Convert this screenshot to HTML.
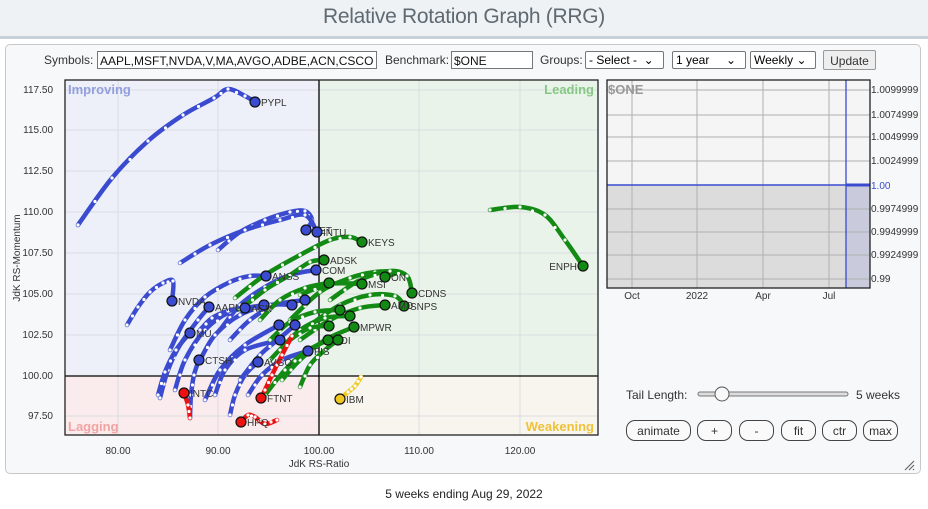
<!DOCTYPE html>
<html><head><meta charset="utf-8"><style>
body{margin:0;width:928px;height:509px;background:#fff;font-family:"Liberation Sans",sans-serif;position:relative;overflow:hidden}
.hdr{position:absolute;left:0;top:0;width:928px;height:36px;background:#eef2f5;border-bottom:3px solid #c9d1d8;text-align:center;font-size:21px;color:#5f6a72;line-height:34px;letter-spacing:-0.3px}
.panel{position:absolute;left:5px;top:44px;width:914px;height:428px;background:#f7f8f9;border:1px solid #c8c8c8;border-radius:5px}
.t{position:absolute;font-size:12px;color:#333;white-space:nowrap}
.inp{position:absolute;height:18px;border:1px solid #777;background:#fff;font-size:12px;line-height:18px;padding-left:2px;box-sizing:border-box;color:#111;white-space:nowrap;overflow:hidden}
.sel{position:absolute;height:18px;border:1px solid #777;background:#fff;font-size:12px;line-height:16px;padding-left:3px;box-sizing:border-box;border-radius:2px}
.btn{position:absolute;height:21px;border:1px solid #444;border-radius:9px;background:#fafafa;font-size:12px;line-height:20px;text-align:center;box-sizing:border-box;color:#333}
.foot{position:absolute;left:0;width:928px;top:487px;text-align:center;font-size:12px;color:#222}
</style></head><body>
<div class="hdr">Relative Rotation Graph (RRG)</div>
<div class="panel"></div>
<div class="t" style="left:44px;top:53px">Symbols:</div>
<div class="inp" style="left:97px;top:51px;width:280px">AAPL,MSFT,NVDA,V,MA,AVGO,ADBE,ACN,CSCO</div>
<div class="t" style="left:385px;top:53px">Benchmark:</div>
<div class="inp" style="left:451px;top:51px;width:82px">$ONE</div>
<div class="t" style="left:540px;top:53px">Groups:</div>
<div class="sel" style="left:585px;top:51px;width:79px">- Select - &nbsp;⌄</div>
<div class="sel" style="left:672px;top:51px;width:74px">1 year &nbsp;&nbsp;&nbsp;&nbsp;⌄</div>
<div class="sel" style="left:750px;top:51px;width:66px">Weekly ⌄</div>
<div class="btn" style="left:823px;top:50px;width:53px;height:20px;border-radius:2px;border-color:#999;background:#eee">Update</div>

<svg style="position:absolute;left:0;top:0" width="928" height="509" id="s">
<rect x="65" y="80" width="254" height="296" fill="#eef0f9"/>
<rect x="319" y="80" width="279" height="296" fill="#eaf3ea"/>
<rect x="65" y="376" width="254" height="59" fill="#faecec"/>
<rect x="319" y="376" width="279" height="59" fill="#f8f5ee"/>
<g stroke="#dadde2" stroke-width="1" id="grid"></g>
<line x1="319" y1="80" x2="319" y2="435" stroke="#000" stroke-width="1.3"/>
<line x1="65" y1="376" x2="598" y2="376" stroke="#000" stroke-width="1.3"/>
<rect x="65" y="80" width="533" height="355" fill="none" stroke="#222" stroke-width="1.3"/>
<g font-size="13" font-weight="bold" font-family="Liberation Sans,sans-serif">
<text x="68" y="94" fill="#929ede">Improving</text>
<text x="594" y="94" fill="#84c884" text-anchor="end">Leading</text>
<text x="68" y="431" fill="#f2a3a3">Lagging</text>
<text x="594" y="431" fill="#efc23a" text-anchor="end">Weakening</text>
</g>
<g font-size="10" fill="#333" id="lab"></g>
<text x="319" y="467" font-size="10" fill="#333" text-anchor="middle">JdK RS-Ratio</text>
<text transform="translate(20,258) rotate(-90)" font-size="10" fill="#333" text-anchor="middle">JdK RS-Momentum</text>
<g id="tails"></g>

<rect x="607" y="80" width="263" height="105" fill="#f5f5f5"/>
<rect x="607" y="185" width="239" height="103" fill="#dcdcdc"/>
<rect x="846" y="185" width="24" height="103" fill="#c9cbdc"/>
<g stroke="#b0b0b0" stroke-width="1">
<line x1="607" y1="115" x2="870" y2="115"/><line x1="607" y1="137" x2="870" y2="137"/><line x1="607" y1="161" x2="870" y2="161"/>
<line x1="607" y1="209" x2="870" y2="209"/><line x1="607" y1="232" x2="870" y2="232"/><line x1="607" y1="255" x2="870" y2="255"/><line x1="607" y1="279" x2="870" y2="279"/>
<line x1="607" y1="90" x2="870" y2="90"/>
<line x1="632" y1="80" x2="632" y2="288"/><line x1="697" y1="80" x2="697" y2="288"/><line x1="763" y1="80" x2="763" y2="288"/><line x1="829" y1="80" x2="829" y2="288"/>
</g>
<line x1="607" y1="185" x2="870" y2="185" stroke="#3a4bd0" stroke-width="1.5"/>
<line x1="846" y1="80" x2="846" y2="288" stroke="#3a4bd0" stroke-width="1.3"/>
<line x1="846" y1="185" x2="870" y2="185" stroke="#3a4bd0" stroke-width="3"/>
<rect x="607" y="80" width="263" height="208" fill="none" stroke="#222" stroke-width="1.3"/>
<text x="608" y="94" font-size="13" font-weight="bold" fill="#999">$ONE</text>
<g font-size="10" fill="#333">
<text x="871" y="93">1.0099999</text><text x="871" y="118">1.0074999</text><text x="871" y="140">1.0049999</text><text x="871" y="164">1.0024999</text>
<text x="871" y="189" fill="#3a4bd0">1.00</text>
<text x="871" y="212">0.9974999</text><text x="871" y="235">0.9949999</text><text x="871" y="258">0.9924999</text><text x="871" y="282">0.99</text>
<text x="632" y="299" text-anchor="middle">Oct</text><text x="697" y="299" text-anchor="middle">2022</text><text x="763" y="299" text-anchor="middle">Apr</text><text x="829" y="299" text-anchor="middle">Jul</text>
</g>
<rect x="698" y="392" width="150" height="4" rx="2" fill="#ddd" stroke="#777" stroke-width="1"/>
<circle cx="722" cy="394" r="7" fill="#f8f8f8" stroke="#555"/>
<path d="M914 461 L905 470 M914 465 L909 470 M914 469 L913 470" stroke="#666" stroke-width="1.2"/>
</svg>
<div class="t" style="left:626px;top:388px">Tail Length:</div>
<div class="t" style="left:856px;top:388px">5 weeks</div>
<div class="btn" style="left:626px;top:420px;width:65px">animate</div>
<div class="btn" style="left:697px;top:420px;width:35px">+</div>
<div class="btn" style="left:739px;top:420px;width:35px">-</div>
<div class="btn" style="left:781px;top:420px;width:35px">fit</div>
<div class="btn" style="left:822px;top:420px;width:35px">ctr</div>
<div class="btn" style="left:863px;top:420px;width:35px">max</div>
<div class="foot">5 weeks ending Aug 29, 2022</div>
<script>
var NS="http://www.w3.org/2000/svg";
function el(t,a,p){var e=document.createElementNS(NS,t);for(var k in a)e.setAttribute(k,a[k]);(p||document.getElementById('tails')).appendChild(e);return e;}
var g=document.getElementById('grid'),lab=document.getElementById('lab');
var xs=[[118,"80.00"],[218,"90.00"],[419,"110.00"],[520,"120.00"],[319,"100.00"]];
xs.forEach(function(v){el('line',{x1:v[0],y1:80,x2:v[0],y2:435},g);var t=el('text',{x:v[0],y:454,'text-anchor':'middle'},lab);t.textContent=v[1];});
var ys=[[90,"117.50"],[130,"115.00"],[171,"112.50"],[212,"110.00"],[253,"107.50"],[294,"105.00"],[335,"102.50"],[376,"100.00"],[416,"97.50"]];
ys.forEach(function(v){el('line',{x1:65,y1:v[0],x2:598,y2:v[0]},g);var t=el('text',{x:53,y:v[0]+3,'text-anchor':'end'},lab);t.textContent=v[1];});
var B="#3a4bd0",G="#138a13",R="#ee1111",Y="#f0c820";
var T=[
[B,"PYPL",[[78,225],[112,178],[148,141],[183,115],[214,98],[228,89],[245,96],[255,102]]],
[B,"NVDA",[[127,325],[138,307],[150,292],[163,283],[173,281],[172,301]]],
[B,"AAPL",[[160,398],[168,370],[180,345],[198,320],[209,307]]],
[B,"MU",[[158,395],[165,372],[176,350],[190,333]]],
[B,"CTSH",[[190,418],[191,395],[194,375],[199,360]]],
[B,"NET",[[218,250],[240,232],[265,220],[290,212],[305,211],[312,220],[306,230]]],
[B,"INTU",[[180,263],[210,245],[245,230],[280,220],[305,215],[317,232]]],
[B,"ANSS",[[170,350],[185,320],[205,297],[230,282],[250,276],[266,276]]],
[B,"COM",[[220,330],[240,305],[265,287],[290,275],[316,270]]],
[B,"",[[175,390],[185,360],[205,330],[230,312],[264,305]]],
[B,"",[[230,340],[250,320],[275,305],[305,300]]],
[B,"",[[200,360],[215,335],[240,315],[270,305],[292,305]]],
[B,"AVGO",[[230,415],[235,395],[245,375],[258,362]]],
[B,"FIS",[[248,395],[262,375],[282,360],[308,351]]],
[B,"",[[205,400],[220,370],[245,345],[279,325]]],
[B,"",[[240,380],[260,355],[280,338],[295,325]]],
[B,"",[[215,395],[225,370],[245,350],[280,340]]],
[B,"ACN",[[200,330],[212,318],[228,311],[245,308]]],
[G,"KEYS",[[235,298],[265,275],[300,255],[330,240],[350,237],[362,242]]],
[G,"ADSK",[[240,310],[265,290],[290,275],[310,262],[324,260]]],
[G,"ON",[[290,320],[320,292],[350,278],[375,272],[398,272],[385,277]]],
[G,"CDNS",[[330,300],[360,280],[390,271],[407,276],[412,293]]],
[G,"SNPS",[[310,325],[340,305],[370,295],[395,296],[404,306]]],
[G,"AMD",[[300,340],[330,320],[360,308],[385,305]]],
[G,"MPWR",[[282,380],[300,360],[325,340],[354,327]]],
[G,"ADI",[[265,395],[285,370],[305,352],[328,340]]],
[G,"",[[300,387],[310,365],[325,350],[338,340]]],
[G,"",[[260,320],[280,300],[305,288],[329,283]]],
[G,"MSI",[[300,295],[330,284],[362,284]]],
[G,"",[[270,340],[290,322],[315,312],[340,310]]],
[G,"",[[280,350],[300,330],[325,318],[350,316]]],
[G,"",[[270,360],[290,340],[310,328],[329,326]]],
[G,"ENPH",[[490,210],[520,207],[545,215],[565,240],[583,266]],1],
[R,"INTC",[[190,418],[188,405],[184,393]]],
[R,"FTNT",[[292,336],[282,355],[272,375],[265,390],[261,398]]],
[R,"HPQ",[[277,420],[265,424],[255,417],[248,415],[241,422]]],
[Y,"IBM",[[361,377],[355,386],[348,392],[340,399]]]
];
function smooth(p){var d="M"+p[0][0]+","+p[0][1];for(var i=0;i<p.length-1;i++){var a=p[i-1]||p[i],b=p[i],c=p[i+1],e=p[i+2]||c;
d+=" C"+(b[0]+(c[0]-a[0])/6)+","+(b[1]+(c[1]-a[1])/6)+" "+(c[0]-(e[0]-b[0])/6)+","+(c[1]-(e[1]-b[1])/6)+" "+c[0]+","+c[1];}return d;}
T.forEach(function(s){var p=s[2];el('path',{d:smooth(p),fill:'none',stroke:s[0],'stroke-width':4.5,'stroke-linejoin':'round','stroke-linecap':'round'});
for(var i=0;i<p.length-1;i++){el('circle',{cx:p[i][0],cy:p[i][1],r:1.6,fill:'#fff'});if(i<p.length-2)el('circle',{cx:(p[i][0]+p[i+1][0])/2,cy:(p[i][1]+p[i+1][1])/2,r:1.6,fill:'#fff'});}});
T.forEach(function(s){var e=s[2][s[2].length-1];el('circle',{cx:e[0],cy:e[1],r:5,fill:s[0],stroke:'#111','stroke-width':1.2});if(s[1]){var t=s[3]?el('text',{x:e[0]-6,y:e[1]+4,'font-size':10,fill:'#333','text-anchor':'end'}):el('text',{x:e[0]+6,y:e[1]+4,'font-size':10,fill:'#333'});t.textContent=s[1];}});
</script>
</body></html>
